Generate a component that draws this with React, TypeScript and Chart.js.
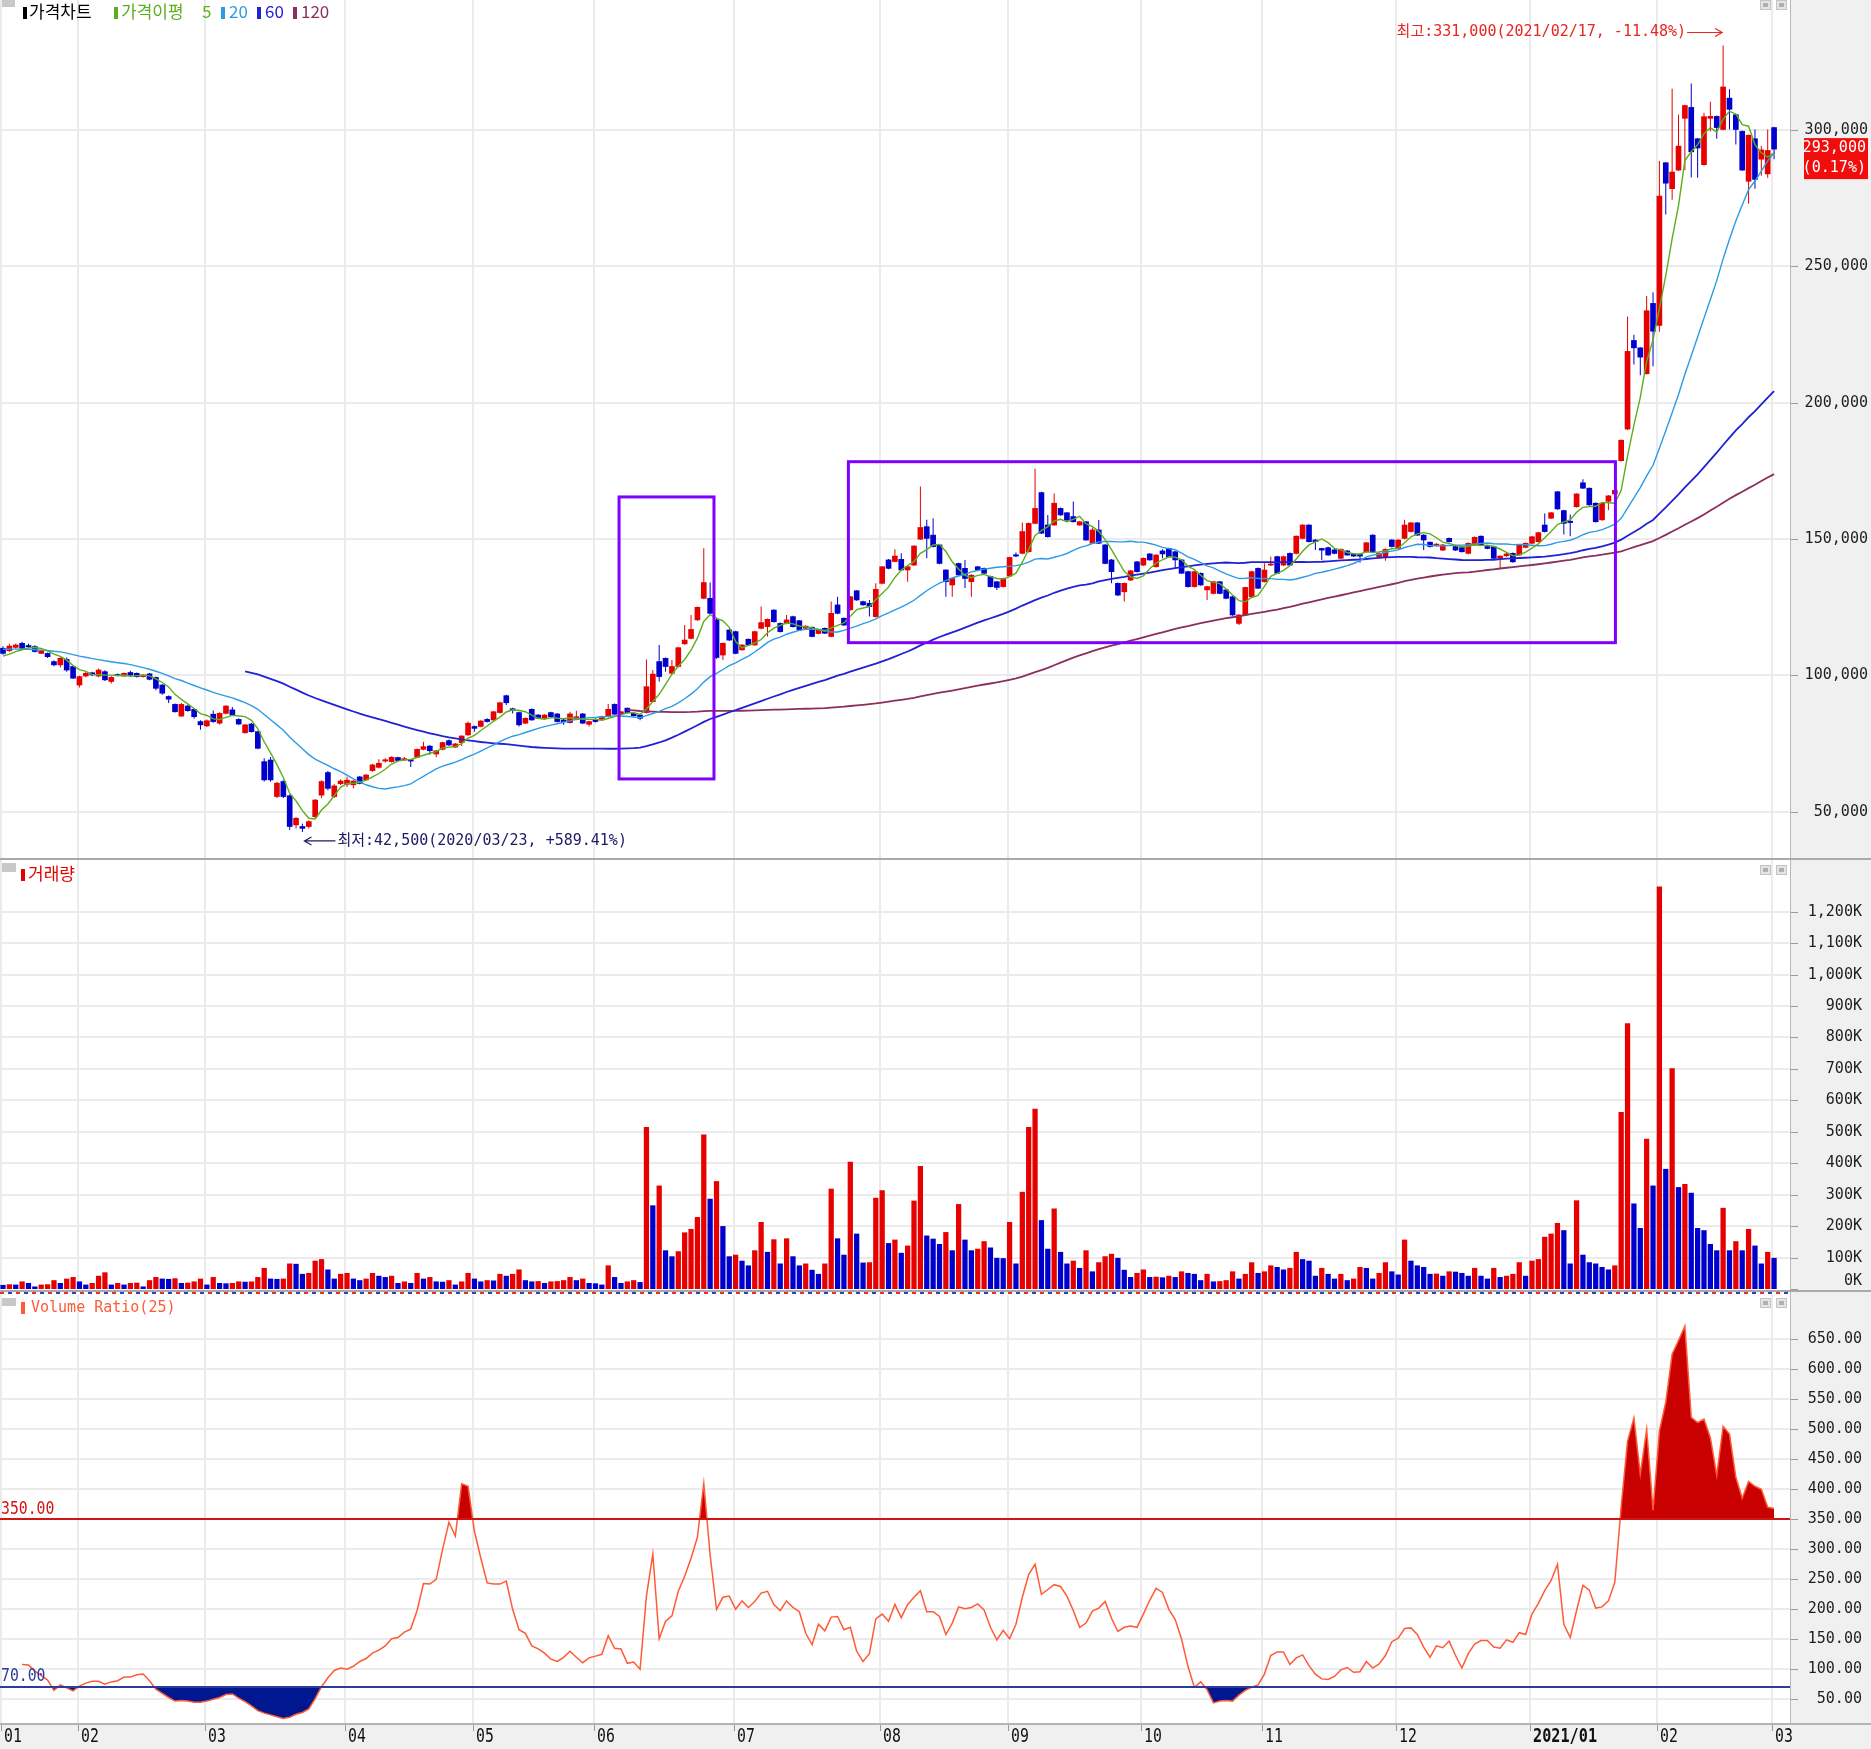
import React, { useEffect, useRef } from 'react';
import { Chart, registerables } from 'chart.js';

Chart.register(...registerables);

// ---------------- DATA (prices in thousand won, volume in K shares) ----------------
const OPEN = [109.9,109.0,110.2,111.7,110.9,110.5,108.0,108.0,105.0,103.8,
105.8,103.2,96.4,99.7,100.9,99.7,101.3,97.7,100.3,99.7,
101.0,100.7,99.5,100.5,99.2,96.4,92.2,89.3,85.0,88.7,
87.5,83.0,81.4,85.7,82.4,86.0,87.3,83.8,78.9,82.1,
79.3,68.3,68.9,55.5,61.0,55.8,45.1,44.5,44.5,48.1,
56.0,64.3,55.5,60.2,60.0,59.8,62.7,61.6,65.0,66.2,
68.5,68.3,69.8,68.9,69.0,69.9,72.8,74.0,71.1,72.8,
76.0,73.6,75.3,78.1,81.2,81.2,83.8,83.6,86.3,92.5,
87.7,86.3,82.4,87.5,85.4,84.2,86.3,85.8,83.6,82.6,
83.8,85.8,82.0,83.8,83.6,84.8,89.3,85.8,87.9,86.0,
85.4,86.3,90.3,105.0,106.2,100.7,103.2,111.5,113.5,120.3,
128.2,128.2,120.3,107.4,116.6,116.0,109.3,113.2,111.1,117.2,
117.8,123.9,119.0,119.0,121.5,120.0,117.2,117.6,115.3,117.2,
114.2,125.8,120.9,124.0,131.0,127.0,126.4,121.5,133.7,142.3,
141.7,142.5,138.6,140.4,149.9,154.5,151.4,147.8,138.6,133.1,
141.0,139.2,134.3,139.8,139.2,136.2,134.3,132.5,136.4,144.2,
144.7,145.3,155.7,167.0,155.1,155.1,161.2,159.6,158.2,155.1,
156.3,148.4,153.3,147.8,142.3,133.7,130.6,134.9,141.6,140.4,
144.5,139.8,145.6,146.5,145.3,142.3,138.0,132.5,137.4,131.3,
130.0,134.3,131.3,128.8,119.0,122.1,128.8,139.2,134.3,140.4,
143.5,140.4,144.7,144.7,150.2,155.1,149.6,146.5,146.8,146.0,
142.9,145.6,144.5,144.3,145.3,151.4,143.5,143.5,149.6,146.5,
150.2,152.7,155.9,151.4,148.8,147.5,145.9,150.2,147.2,146.8,
144.7,147.8,151.0,147.2,147.2,142.9,143.8,144.7,144.1,146.9,
148.4,149.0,155.1,157.6,167.3,160.4,156.5,161.8,170.6,168.6,
163.1,157.0,163.8,166.5,178.7,190.3,222.8,220.1,210.6,236.4,
228.3,288.0,278.5,285.3,304.3,308.3,296.8,287.3,304.3,305.0,
300.2,311.7,305.6,299.5,281.2,296.8,289.3,283.9,300.9];

const HIGH = [110.6,111.5,111.6,112.3,111.5,111.0,109.3,108.3,105.5,106.6,
106.5,103.6,99.8,101.2,101.3,102.5,101.8,99.6,100.6,101.0,
101.6,101.0,100.4,100.8,99.5,96.8,92.6,89.6,89.8,89.2,
87.8,83.5,83.8,87.1,86.4,89.0,88.3,84.2,82.0,82.5,
79.6,69.5,70.0,60.8,61.5,56.2,48.0,45.5,46.8,54.6,
61.5,64.9,60.0,61.8,62.8,61.5,63.0,63.8,67.5,69.2,
69.5,70.3,70.1,70.0,69.3,73.1,75.6,74.4,72.6,75.6,
76.4,75.1,78.0,83.0,81.6,83.5,84.2,86.9,90.2,92.8,
88.1,86.6,84.5,87.8,85.7,85.7,86.6,86.1,83.9,86.6,
87.0,86.1,83.3,84.1,85.1,89.4,89.6,86.9,88.2,86.3,
85.7,105.8,101.9,111.1,106.5,105.6,110.4,118.4,122.1,125.2,
146.6,134.0,121.0,112.0,117.0,116.3,111.4,113.5,116.3,125.2,
120.8,124.2,119.3,122.1,121.8,120.3,118.3,117.9,116.9,117.5,
127.0,128.8,121.2,129.1,131.3,127.3,127.6,133.7,140.1,142.6,
146.2,144.7,140.1,147.7,169.2,157.0,157.6,148.1,138.9,135.8,
141.3,142.3,137.0,140.1,139.5,136.5,134.6,135.8,143.5,145.0,
156.0,156.0,175.7,167.3,158.8,166.7,161.5,159.9,163.7,156.6,
156.6,154.2,156.9,148.1,142.6,134.0,134.0,138.6,141.9,143.2,
144.8,144.4,146.2,146.8,145.6,142.6,138.3,138.3,137.7,132.8,
134.6,134.6,131.6,129.1,122.4,132.5,138.3,139.5,141.1,143.5,
143.8,143.8,145.0,151.3,155.4,155.4,149.9,146.8,147.1,146.3,
146.5,145.9,144.8,144.6,148.9,151.7,145.0,146.5,149.9,149.9,
157.0,156.2,156.2,151.7,149.1,148.4,148.1,150.5,147.5,147.1,
148.7,150.9,151.3,147.5,147.5,144.0,144.8,145.0,148.1,148.7,
151.1,152.6,159.3,159.9,167.6,160.7,159.0,166.8,171.9,168.9,
163.4,163.4,166.1,168.1,186.5,231.6,224.9,220.4,239.1,240.5,
288.6,288.3,315.1,305.6,309.3,317.1,297.1,306.3,310.4,305.3,
331.0,315.0,305.9,299.8,298.4,300.2,294.1,300.2,301.2];

const LOW = [107.5,108.5,109.8,109.6,109.8,108.3,107.8,106.3,103.3,102.8,
101.3,98.6,95.5,99.3,99.6,99.3,97.9,97.0,99.6,99.4,
99.6,99.2,99.2,98.2,94.5,92.8,89.8,86.3,84.8,86.6,
84.0,80.0,81.0,82.6,81.9,85.7,85.0,81.7,78.5,79.0,
72.8,61.0,60.9,55.0,55.0,43.2,43.8,42.5,43.8,47.5,
55.0,57.8,55.0,59.7,59.0,58.5,60.0,61.2,64.6,65.8,
68.0,68.0,68.4,68.6,66.3,69.5,72.5,70.8,69.9,72.5,
74.0,73.3,74.0,77.8,79.3,80.9,82.7,83.3,86.0,89.1,
86.0,81.2,82.1,83.3,83.9,83.9,84.5,82.7,81.8,82.3,
83.5,82.1,81.2,82.7,83.3,84.5,85.4,85.5,86.0,84.8,
83.5,86.0,90.0,97.7,101.3,100.4,102.9,111.2,113.2,120.0,
127.9,122.4,106.0,105.6,112.6,107.7,109.0,110.8,110.8,116.9,
114.2,119.3,115.7,118.7,117.5,116.3,116.9,113.9,115.0,115.1,
113.9,122.4,118.1,123.7,127.3,125.5,121.5,121.2,133.4,138.9,
141.4,138.3,134.3,140.1,149.6,142.9,146.9,140.7,128.8,128.8,
136.5,132.0,128.8,138.3,137.1,132.2,131.3,132.2,136.1,143.4,
144.4,145.0,155.4,151.8,150.5,154.8,158.5,156.6,156.0,154.8,
149.3,148.1,148.1,140.7,133.7,129.1,127.0,134.6,137.7,140.1,
142.0,139.5,142.9,143.2,139.2,137.1,132.2,132.2,132.8,127.6,
129.7,129.7,127.9,121.8,118.4,121.8,128.5,131.6,134.0,140.1,
137.1,140.1,140.1,144.4,149.9,148.7,145.9,142.3,143.8,144.4,
142.6,143.8,143.4,141.3,145.0,145.0,143.2,142.0,146.9,146.2,
149.9,152.4,151.1,145.9,146.9,147.2,145.6,148.7,145.6,145.0,
144.4,147.5,147.5,146.2,142.6,139.2,143.5,141.3,143.8,146.6,
148.1,148.7,152.4,157.3,160.7,151.6,151.0,161.5,168.3,162.2,
156.0,156.7,160.5,166.2,178.4,190.0,214.0,210.0,210.3,213.3,
226.0,269.0,274.4,285.0,285.3,282.6,282.5,287.0,299.5,296.8,
299.9,300.2,294.7,285.0,273.0,278.5,283.2,282.5,289.3];

const CLOSE = [108.0,110.7,111.1,109.9,110.4,108.7,109.0,106.8,103.8,106.2,
101.9,98.9,99.5,100.7,100.1,101.9,98.3,99.2,99.9,100.7,
100.0,99.5,100.1,98.5,95.2,93.4,91.2,86.6,89.3,87.0,
84.8,81.8,83.3,83.0,86.0,88.7,85.4,82.1,81.8,79.3,
73.2,61.6,61.6,60.4,55.5,44.5,47.5,43.8,46.3,54.2,
61.0,58.5,59.4,61.2,61.5,61.2,60.3,63.4,67.1,67.7,
69.0,69.9,68.7,69.4,68.5,72.8,73.8,72.3,72.3,75.3,
74.4,74.8,77.7,82.4,80.5,83.2,83.0,86.6,89.9,89.9,
87.2,81.8,84.2,83.6,84.2,85.4,84.8,83.0,83.0,85.8,
84.8,82.4,83.0,83.0,84.8,87.5,85.7,86.6,86.3,85.1,
84.2,95.8,100.4,99.5,103.2,103.2,110.1,112.9,116.8,124.9,
134.0,122.7,106.5,111.7,112.9,108.0,111.1,111.1,116.0,119.3,
120.5,119.6,116.0,120.3,117.8,116.6,118.0,114.2,116.6,115.4,
122.7,122.7,118.4,128.8,127.6,125.8,125.2,131.5,139.8,139.2,
143.7,138.6,139.8,147.4,154.2,150.2,147.2,141.0,134.3,135.5,
136.8,135.5,136.7,138.6,137.4,132.5,132.2,135.5,143.2,143.7,
152.7,155.7,161.2,152.1,150.8,163.1,158.8,156.9,156.3,156.3,
149.6,153.3,148.4,141.0,138.0,129.4,133.7,138.3,138.0,142.9,
142.3,144.1,144.5,143.5,142.3,137.4,132.5,138.0,133.1,132.5,
134.3,130.0,128.2,122.1,122.1,132.2,138.0,131.9,138.6,140.8,
137.4,143.5,140.4,151.0,155.1,149.0,149.0,145.9,144.1,144.7,
146.2,144.1,143.7,143.7,148.6,145.3,144.7,146.2,147.2,149.6,
155.1,155.9,151.4,149.6,147.2,148.1,147.8,149.0,145.9,145.3,
148.4,150.6,147.8,146.5,142.9,143.7,144.5,141.6,147.8,148.4,
150.8,152.3,152.7,159.6,161.0,155.7,156.0,166.5,168.6,162.5,
156.3,163.1,165.8,167.8,186.2,218.8,220.1,216.7,233.7,226.2,
275.8,280.5,284.6,294.1,309.0,292.0,293.4,304.9,305.0,300.9,
315.8,307.6,300.2,285.3,298.1,281.9,292.7,292.5,293.0];

// closes of the 21 sessions before the first visible candle (feed the moving averages)
const PRE_CLOSE = [108,109,110,111,110.5,111,112,111.5,110,109.5,110,111,110.5,110,109.5,110,109,107,106.5,106.5,107];

const VOLUME = [12,14,13,23,18,7,13,14,27,18,
32,37,23,13,18,41,52,13,18,13,
18,19,7,27,37,32,31,33,18,19,
23,32,13,37,18,17,18,23,22,23,
37,66,32,31,32,80,79,47,50,89,
94,61,32,47,50,32,27,32,50,41,
37,41,18,23,18,50,32,37,23,22,
27,13,23,50,32,23,27,26,47,41,
47,61,27,23,24,18,23,24,27,37,
27,32,18,17,13,74,37,18,23,27,
21,514,265,328,122,103,119,179,190,228,
490,286,342,199,103,108,89,74,122,212,
117,157,80,160,103,74,80,60,47,80,
318,160,108,404,175,83,84,289,313,145,
156,114,137,280,390,169,159,142,180,122,
269,156,122,127,151,131,98,97,212,80,
308,514,572,218,127,255,117,80,89,66,
122,55,84,103,111,98,60,37,50,61,
37,38,36,41,37,55,50,47,27,47,
23,24,27,55,32,47,84,50,55,74,
69,61,66,117,94,89,41,66,47,32,
47,27,32,69,66,32,50,84,55,45,
156,89,74,69,47,48,41,55,54,50,
41,66,41,32,66,37,41,47,84,41,
89,94,165,175,209,186,80,281,108,84,
80,69,61,74,562,844,271,193,477,328,
1279,381,701,323,333,305,193,186,142,122,
257,122,151,122,190,137,80,117,98];
const PRE_VOLUME = 20;

const VR = [null,null,null,108,107,97,90,82,65,74,
69,64,72,77,80,80,75,79,81,87,
87,91,92,81,67,60,53,47,48,47,
45,45,47,50,53,58,59,52,46,39,
31,27,24,21,18,20,25,28,34,51,
71,86,98,102,100,105,113,118,127,132,
139,151,153,162,167,198,243,242,250,300,
345,322,409,405,330,285,244,242,242,247,
200,166,160,139,134,127,117,113,120,130,
120,111,119,122,125,156,135,134,110,112,
100,222,292,151,180,189,230,255,285,320,
410,290,200,220,222,200,214,203,213,227,
230,208,198,214,203,196,160,141,175,164,
187,188,166,170,130,113,126,184,192,180,
208,186,208,220,231,196,196,188,158,177,
204,201,203,209,199,170,149,165,151,175,
220,258,275,225,233,241,238,222,198,170,
177,197,202,213,185,163,170,172,170,192,
215,235,228,200,183,150,105,70,79,66,
44,47,48,47,57,65,70,74,92,123,
129,129,108,119,124,106,92,84,83,88,
99,103,95,96,113,102,109,123,146,152,
168,169,158,137,120,139,136,147,123,102,
126,142,148,148,137,135,149,145,161,158,
192,210,231,248,275,175,153,198,240,232,
202,204,214,245,371,480,519,425,500,365,
497,545,625,648,672,520,511,517,486,423,
505,492,420,385,413,405,400,370,368];

const MONTH_START = [0,12,32,54,74,93,115,138,158,179,198,219,240,260,278];
const MONTH_LABEL = ['01','02','03','04','05','06','07','08','09','10','11','12','2021/01','02','03'];
const PRICE_TICKS = [50,100,150,200,250,300];
const VOLUME_TICKS = [0,100,200,300,400,500,600,700,800,900,1000,1100,1200];
const VR_TICKS = [50,100,150,200,250,300,350,400,450,500,550,600,650];
const MA_PERIODS = [5,20,60,120];
const VR_UPPER = 350;
const VR_LOWER = 70;
const HIGH_DATE = '2021/02/17';
const LOW_DATE = '2020/03/23';
// highlighted zones: session-index span and price span (thousand won)
const BOXES = [
  { from: 96.7, to: 111.6, low: 61.95, high: 165.4 },
  { from: 132.7, to: 253.1, low: 111.94, high: 178.33 },
];

// ---------------- STYLE / LAYOUT ----------------
const W = 1871;
const AXIS_W = 81;
const UP = '#e60000';
const DOWN = '#0000cc';
const MA_COLORS = ['#5cae1e', '#2c9be6', '#2121d6', '#8c2f5e'];
const MA_WIDTHS = [1.4, 1.4, 1.8, 1.8];
const X_MIN = -0.47, X_MAX = 280.5;
const MONO = "'DejaVu Sans Mono', 'Liberation Mono', 'Noto Sans CJK KR', monospace";
const KR = "'Noto Sans CJK KR', 'Noto Sans', sans-serif";
const GRID = '#ebebeb';
const AXIS_BG = '#f0f0f0';

const IDX = CLOSE.map((_, i) => i);
const candleColor = IDX.map((i) => (CLOSE[i] >= OPEN[i] ? UP : DOWN));
const volumeColor = IDX.map((i) => (VOLUME[i] > (i === 0 ? PRE_VOLUME : VOLUME[i - 1]) ? UP : DOWN));

function movingAverage(period: number) {
  const all = [...PRE_CLOSE, ...CLOSE];
  const off = PRE_CLOSE.length;
  return CLOSE.map((_, i) => {
    const end = i + off;
    if (end + 1 < period) return null;
    let s = 0;
    for (let k = end - period + 1; k <= end; k++) s += all[k];
    return s / period;
  });
}

function fmtThousands(v: number) {
  return Math.round(v).toLocaleString('en-US');
}

function drawText(ctx: CanvasRenderingContext2D, text: string, x: number, y: number, o: { size: number; family?: string; color: string; align?: CanvasTextAlign; sx?: number; weight?: string }) {
  ctx.save();
  ctx.translate(x, y);
  ctx.scale(o.sx ?? 1, 1);
  ctx.font = `${o.weight ?? 'normal'} ${o.size}px ${o.family ?? MONO}`;
  ctx.fillStyle = o.color;
  ctx.textAlign = o.align ?? 'left';
  ctx.textBaseline = 'middle';
  ctx.fillText(text, 0, 0);
  ctx.restore();
}

function drawGrid(chart: any, yTicks: number[]) {
  const { ctx, chartArea: a, scales } = chart;
  ctx.save();
  ctx.strokeStyle = GRID;
  ctx.lineWidth = 2;
  ctx.beginPath();
  for (const v of yTicks) {
    const y = Math.round(scales.y.getPixelForValue(v));
    if (y <= a.top + 1 || y >= a.bottom - 1) continue;
    ctx.moveTo(a.left, y);
    ctx.lineTo(a.right, y);
  }
  for (const s of MONTH_START) {
    const x = Math.round(scales.x.getPixelForValue(s - 0.3));
    ctx.moveTo(x, a.top);
    ctx.lineTo(x, a.bottom);
  }
  ctx.stroke();
  ctx.restore();
}

function drawAxis(chart: any, yTicks: number[], fmt: (v: number) => string, right: number, size: number, sx: number) {
  const { ctx, chartArea: a, scales } = chart;
  ctx.save();
  ctx.fillStyle = AXIS_BG;
  ctx.fillRect(a.right, 0, chart.width - a.right, chart.height);
  ctx.fillStyle = '#b9b9b9';
  ctx.fillRect(a.right, 0, 1, chart.height);
  ctx.strokeStyle = '#9a9a9a';
  ctx.lineWidth = 1;
  for (const v of yTicks) {
    const y = Math.round(scales.y.getPixelForValue(v));
    if (y < a.top - 1 || y > a.bottom + 1) continue;
    ctx.beginPath();
    ctx.moveTo(a.right + 1, y + 0.5);
    ctx.lineTo(a.right + 8, y + 0.5);
    ctx.stroke();
    const ly = Math.min(y, a.bottom - 8);
    drawText(ctx, fmt(v), right, ly, { size, color: '#1e1e1e', align: 'right', sx });
  }
  ctx.restore();
}

function drawIcons(ctx: CanvasRenderingContext2D, y: number) {
  ctx.save();
  for (const x of [1760, 1776]) {
    ctx.fillStyle = '#e4e4e4';
    ctx.fillRect(x, y, 11, 10);
    ctx.strokeStyle = '#c4c4c4';
    ctx.strokeRect(x + 0.5, y + 0.5, 10, 9);
    ctx.fillStyle = '#b0b0b0';
    ctx.fillRect(x + 3, y + 3, 5, 4);
  }
  ctx.restore();
}

function headerMark(ctx: CanvasRenderingContext2D, x: number, y: number, color: string) {
  ctx.fillStyle = color;
  ctx.fillRect(x, y - 6, 4, 12);
}

function drawArrow(ctx: CanvasRenderingContext2D, x1: number, x2: number, y: number, color: string) {
  // arrow pointing from x1 toward x2
  const dir = x2 > x1 ? 1 : -1;
  ctx.save();
  ctx.strokeStyle = color;
  ctx.lineWidth = 1.2;
  ctx.beginPath();
  ctx.moveTo(x1, y);
  ctx.lineTo(x2, y);
  ctx.moveTo(x2 - dir * 7, y - 4);
  ctx.lineTo(x2, y);
  ctx.lineTo(x2 - dir * 7, y + 4);
  ctx.stroke();
  ctx.restore();
}

const COMMON: any = {
  responsive: false,
  maintainAspectRatio: false,
  animation: false,
  devicePixelRatio: 1,
  events: [],
  plugins: { legend: { display: false }, tooltip: { enabled: false } },
};

const X_SCALE = { type: 'linear', min: X_MIN, max: X_MAX, display: false, offset: false };

// ---------------- PRICE PANEL ----------------
function buildPrice(): any {
  const wick = IDX.map((i) => ({ x: i, y: [LOW[i], HIGH[i]] }));
  const body = IDX.map((i) => ({ x: i, y: [Math.min(OPEN[i], CLOSE[i]), Math.max(OPEN[i], CLOSE[i])] }));
  const maSets = MA_PERIODS.map((p, k) => ({
    type: 'line',
    data: movingAverage(p).map((v, i) => ({ x: i, y: v })),
    borderColor: MA_COLORS[k],
    borderWidth: MA_WIDTHS[k],
    pointRadius: 0,
    fill: false,
    tension: 0,
    order: 0,
  }));
  const hiIdx = HIGH.indexOf(Math.max(...HIGH));
  const loIdx = LOW.indexOf(Math.min(...LOW));
  const last = CLOSE[CLOSE.length - 1];
  const prev = CLOSE[CLOSE.length - 2];

  const plugin = {
    id: 'pricePanel',
    beforeDraw(chart: any) {
      const { ctx } = chart;
      ctx.save();
      ctx.fillStyle = '#ffffff';
      ctx.fillRect(0, 0, chart.width, chart.height);
      ctx.restore();
    },
    beforeDatasetsDraw(chart: any) {
      drawGrid(chart, PRICE_TICKS);
    },
    afterDatasetsDraw(chart: any) {
      const { ctx, scales } = chart;
      const xs = scales.x, ys = scales.y;
      ctx.save();
      ctx.strokeStyle = '#8000ff';
      ctx.lineWidth = 3;
      for (const b of BOXES) {
        const x1 = xs.getPixelForValue(b.from), x2 = xs.getPixelForValue(b.to);
        const y1 = ys.getPixelForValue(b.high), y2 = ys.getPixelForValue(b.low);
        ctx.strokeRect(x1, y1, x2 - x1, y2 - y1);
      }
      ctx.restore();
      // high annotation
      const hv = HIGH[hiIdx];
      const xh = xs.getPixelForValue(hiIdx);
      const yh = ys.getPixelForValue(hv) - 13;
      const hiPct = ((last - hv) / hv) * 100;
      drawText(ctx, `최고:${fmtThousands(hv * 1000)}(${HIGH_DATE}, ${hiPct.toFixed(2)}%)`, xh - 37, yh, { size: 15, color: '#e8261f', align: 'right' });
      drawArrow(ctx, xh - 36, xh - 1, yh, '#e8261f');
      // low annotation
      const lv = LOW[loIdx];
      const xl = xs.getPixelForValue(loIdx);
      const yl = ys.getPixelForValue(lv) + 9;
      const loPct = ((last - lv) / lv) * 100;
      drawArrow(ctx, xl + 33, xl + 2, yl, '#1c1c66');
      drawText(ctx, `최저:${fmtThousands(lv * 1000)}(${LOW_DATE}, +${loPct.toFixed(2)}%)`, xl + 35, yl, { size: 15, color: '#1c1c66', align: 'left' });
    },
    afterDraw(chart: any) {
      const { ctx, scales } = chart;
      drawAxis(chart, PRICE_TICKS, (v) => fmtThousands(v * 1000), 1868, 16, 0.94);
      // last price box
      const yb = scales.y.getPixelForValue(last);
      ctx.save();
      ctx.fillStyle = '#f20c0c';
      ctx.fillRect(1804, yb - 11, 64, 41);
      ctx.restore();
      const chg = ((last - prev) / prev) * 100;
      drawText(ctx, fmtThousands(last * 1000), 1866, yb - 1, { size: 16, color: '#ffffff', align: 'right', sx: 0.94 });
      drawText(ctx, `(${chg.toFixed(2)}%)`, 1866, yb + 19, { size: 16, color: '#ffffff', align: 'right', sx: 0.94 });
      // header
      ctx.save();
      ctx.fillStyle = '#c8c8c8';
      ctx.fillRect(2, 0, 13, 7);
      headerMark(ctx, 23, 13, '#000000');
      headerMark(ctx, 114, 13, MA_COLORS[0]);
      headerMark(ctx, 221, 13, MA_COLORS[1]);
      headerMark(ctx, 257, 13, MA_COLORS[2]);
      headerMark(ctx, 293, 13, MA_COLORS[3]);
      ctx.restore();
      drawText(ctx, '가격차트', 29, 12, { size: 17, family: KR, color: '#000000' });
      drawText(ctx, '가격이평', 121, 12, { size: 17, family: KR, color: MA_COLORS[0] });
      drawText(ctx, String(MA_PERIODS[0]), 202, 12, { size: 17, family: KR, color: MA_COLORS[0] });
      drawText(ctx, String(MA_PERIODS[1]), 229, 12, { size: 17, family: KR, color: MA_COLORS[1] });
      drawText(ctx, String(MA_PERIODS[2]), 265, 12, { size: 17, family: KR, color: MA_COLORS[2] });
      drawText(ctx, String(MA_PERIODS[3]), 301, 12, { size: 17, family: KR, color: MA_COLORS[3] });
      drawIcons(ctx, 0);
    },
  };

  return {
    type: 'bar',
    data: {
      datasets: [
        { type: 'bar', data: wick, backgroundColor: candleColor, barThickness: 1, grouped: false, borderWidth: 0, inflateAmount: 0, order: 3 },
        { type: 'bar', data: body, backgroundColor: candleColor, barThickness: 5, grouped: false, borderWidth: 0, minBarLength: 1, order: 2 },
        ...maSets,
      ],
    },
    options: {
      ...COMMON,
      layout: { padding: { left: 0, right: AXIS_W, top: 0, bottom: 0 } },
      scales: { x: X_SCALE, y: { type: 'linear', min: 32.95, max: 347.7, display: false } },
    },
    plugins: [plugin],
  };
}

// ---------------- VOLUME PANEL ----------------
function buildVolume(): any {
  const plugin = {
    id: 'volumePanel',
    beforeDraw(chart: any) {
      const { ctx } = chart;
      ctx.save();
      ctx.fillStyle = '#ffffff';
      ctx.fillRect(0, 0, chart.width, chart.height);
      ctx.restore();
    },
    beforeDatasetsDraw(chart: any) {
      drawGrid(chart, VOLUME_TICKS);
    },
    afterDraw(chart: any) {
      const { ctx } = chart;
      drawAxis(chart, VOLUME_TICKS, (v) => `${fmtThousands(v)}K`, 1862, 16, 0.94);
      ctx.save();
      ctx.fillStyle = '#a9a9a9';
      ctx.fillRect(0, 0, chart.width, 2);
      ctx.fillStyle = '#a9a9a9';
      ctx.fillRect(0, chart.height - 2, chart.width, 2);
      ctx.fillStyle = '#c8c8c8';
      ctx.fillRect(2, 5, 14, 9);
      headerMark(ctx, 21, 17, UP);
      ctx.restore();
      drawText(ctx, '거래량', 28, 16, { size: 17, family: KR, color: UP });
      drawIcons(ctx, 7);
    },
  };
  return {
    type: 'bar',
    data: {
      datasets: [
        { type: 'bar', data: IDX.map((i) => ({ x: i, y: VOLUME[i] })), backgroundColor: volumeColor, barThickness: 4.6, grouped: false, borderWidth: 0 },
      ],
    },
    options: {
      ...COMMON,
      layout: { padding: { left: 0, right: AXIS_W, top: 2, bottom: 3 } },
      scales: { x: X_SCALE, y: { type: 'linear', min: 0, max: 1364.4, display: false } },
    },
    plugins: [plugin],
  };
}

// ---------------- VOLUME RATIO PANEL ----------------
function buildVR(): any {
  const vrData = VR.map((v, i) => ({ x: i, y: v }));
  const plugin = {
    id: 'vrPanel',
    beforeDraw(chart: any) {
      const { ctx } = chart;
      ctx.save();
      ctx.fillStyle = '#ffffff';
      ctx.fillRect(0, 0, chart.width, chart.height);
      ctx.restore();
    },
    beforeDatasetsDraw(chart: any) {
      drawGrid(chart, VR_TICKS);
    },
    afterDatasetsDraw(chart: any) {
      const { ctx, chartArea: a, scales } = chart;
      const yu = Math.round(scales.y.getPixelForValue(VR_UPPER));
      const yl = Math.round(scales.y.getPixelForValue(VR_LOWER));
      ctx.save();
      ctx.fillStyle = '#d21414';
      ctx.fillRect(a.left, yu - 1, a.right - a.left, 2);
      ctx.fillStyle = '#2b3c9c';
      ctx.fillRect(a.left, yl - 1, a.right - a.left, 2);
      ctx.restore();
      drawText(ctx, VR_UPPER.toFixed(2), 1, yu - 10, { size: 18, color: '#d21414', sx: 0.82 });
      drawText(ctx, VR_LOWER.toFixed(2), 1, yl - 11, { size: 18, color: '#2b3c9c', sx: 0.82 });
    },
    afterDraw(chart: any) {
      const { ctx, chartArea: a, scales } = chart;
      drawAxis(chart, VR_TICKS, (v) => v.toFixed(2), 1862, 16, 0.94);
      // bottom month band
      ctx.save();
      ctx.fillStyle = AXIS_BG;
      ctx.fillRect(0, a.bottom, chart.width, chart.height - a.bottom);
      ctx.fillStyle = '#b4b4b4';
      ctx.fillRect(0, a.bottom, chart.width, 2);
      ctx.strokeStyle = '#9a9a9a';
      ctx.lineWidth = 1;
      MONTH_START.forEach((s) => {
        const x = Math.round(scales.x.getPixelForValue(s - 0.3)) + 0.5;
        ctx.beginPath();
        ctx.moveTo(x, a.bottom + 2);
        ctx.lineTo(x, a.bottom + 8);
        ctx.stroke();
      });
      ctx.restore();
      MONTH_START.forEach((s, k) => {
        const x = Math.round(scales.x.getPixelForValue(s - 0.3)) + 3;
        const bold = MONTH_LABEL[k].length > 2;
        drawText(ctx, MONTH_LABEL[k], x, a.bottom + 14, { size: 19, color: '#111111', sx: bold ? 0.8 : 0.78, weight: bold ? 'bold' : 'normal' });
      });
      // top separator (red / blue dashes)
      ctx.save();
      for (let x = 0; x < a.right; x += 8) {
        ctx.fillStyle = (x / 8) % 2 === 0 ? '#e23030' : '#3040c0';
        ctx.fillRect(x, 0, 4, 2);
      }
      ctx.fillStyle = '#c8c8c8';
      ctx.fillRect(2, 6, 14, 8);
      headerMark(ctx, 21, 16, '#ff5a36');
      ctx.restore();
      drawText(ctx, 'Volume Ratio(25)', 31, 16, { size: 15, color: '#ff5a36' });
      drawIcons(ctx, 6);
    },
  };
  const clear = 'rgba(0,0,0,0)';
  return {
    type: 'line',
    data: {
      datasets: [
        { data: vrData, borderColor: clear, borderWidth: 1, pointRadius: 0, tension: 0, order: 3, fill: { target: { value: VR_UPPER }, above: '#c80000', below: clear } },
        { data: vrData, borderColor: clear, borderWidth: 1, pointRadius: 0, tension: 0, order: 2, fill: { target: { value: VR_LOWER }, above: clear, below: '#00178f' } },
        { data: vrData, borderColor: '#ff5a36', borderWidth: 1.5, pointRadius: 0, tension: 0, order: 1, fill: false },
      ],
    },
    options: {
      ...COMMON,
      layout: { padding: { left: 0, right: AXIS_W, top: 3, bottom: 26 } },
      scales: { x: X_SCALE, y: { type: 'linear', min: 10.5, max: 723.8, display: false } },
    },
    plugins: [plugin],
  };
}

function Panel({ top, height, build }: { top: number; height: number; build: () => any }) {
  const ref = useRef<HTMLCanvasElement>(null);
  useEffect(() => {
    const chart = new Chart(ref.current as HTMLCanvasElement, build());
    return () => chart.destroy();
  }, []);
  return (
    <canvas
      ref={ref}
      width={W}
      height={height}
      style={{ position: 'absolute', left: 0, top, width: W, height, display: 'block' }}
    />
  );
}

export default function App() {
  return (
    <div style={{ position: 'absolute', left: 0, top: 0, width: W, height: 1749, background: '#ffffff', overflow: 'hidden' }}>
      <Panel top={0} height={858} build={buildPrice} />
      <Panel top={858} height={434} build={buildVolume} />
      <Panel top={1292} height={457} build={buildVR} />
    </div>
  );
}
